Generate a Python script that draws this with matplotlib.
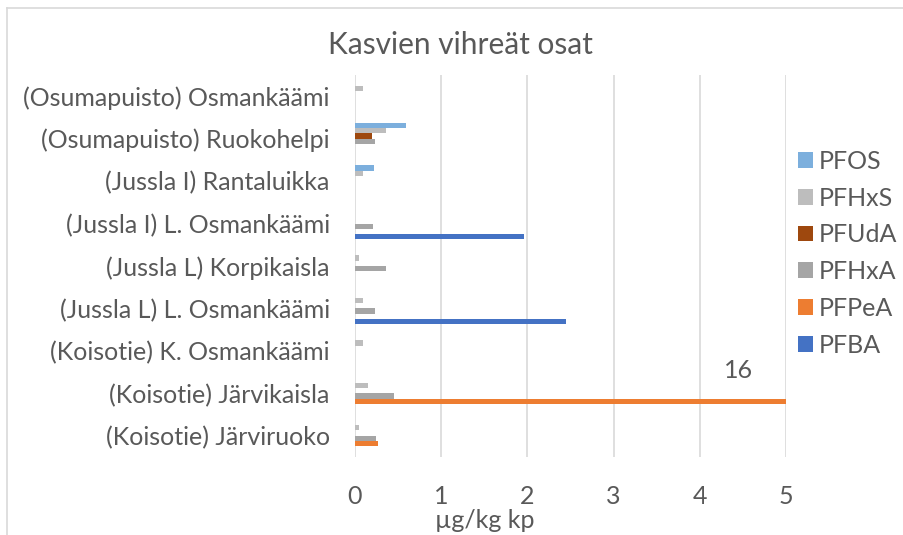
import numpy as np
import matplotlib.pyplot as plt
from matplotlib.lines import Line2D

plt.rcParams['font.family'] = ['Lato', 'DejaVu Sans']

# categories from bottom to top
categories = ['(Koisotie) Järviruoko', '(Koisotie) Järvikaisla', '(Koisotie) K. Osmankäämi',
              '(Jussla L) L. Osmankäämi', '(Jussla L) Korpikaisla', '(Jussla I) L. Osmankäämi',
              '(Jussla I) Rantaluikka', '(Osumapuisto) Ruokohelpi', '(Osumapuisto) Osmankäämi']

pfba  = [0, 0, 0, 2.45, 0, 1.96, 0, 0, 0]
pfpea = [0.27, 16, 0, 0, 0, 0, 0, 0, 0]
pfhxa = [0.25, 0.45, 0, 0.23, 0.36, 0.21, 0, 0.24, 0]
pfuda = [0, 0, 0, 0, 0, 0, 0, 0.20, 0]
pfhxs = [0.05, 0.15, 0.10, 0.10, 0.05, 0, 0.10, 0.36, 0.10]
pfos  = [0, 0, 0, 0, 0, 0, 0.22, 0.60, 0]

series = [('PFBA', pfba, '#4472C4'), ('PFPeA', pfpea, '#ED7D31'), ('PFHxA', pfhxa, '#A5A5A5'),
          ('PFUdA', pfuda, '#9E480E'), ('PFHxS', pfhxs, '#BDBDBD'), ('PFOS', pfos, '#7CAFDD')]

txt = '#595959'
grid = '#D9D9D9'
fs = 18

fig = plt.figure(figsize=(9.04, 5.35), dpi=100)
ax = fig.add_axes([0.3924, 0.1458, 0.4771, 0.714])

y = np.arange(len(categories))
h = 0.125
handles = []
for i, (name, vals, col) in enumerate(series):
    off = (i - 2.5) * h
    b = ax.barh(y + off, vals, height=h, color=col, label=name, zorder=3)
    handles.append(b)

# data label for the clipped bar
ax.text(4.45, y[1] - 1.5 * h + 0.73, '16', ha='center', va='center', fontsize=fs, color=txt)

ax.set_xlim(0, 5)
ax.set_ylim(-0.5, len(categories) - 0.5)
ax.set_xticks(range(6))
ax.set_yticks(y)
ax.set_yticklabels(categories)
ax.xaxis.grid(True, color=grid, linewidth=1.2)
ax.set_axisbelow(True)
for s in ax.spines.values():
    s.set_visible(False)
ax.tick_params(axis='both', length=0, labelsize=fs, colors=txt)
ax.tick_params(axis='x', pad=20)
ax.tick_params(axis='y', pad=18)

ax.text(0.302, -0.165, 'µg/kg kp', transform=ax.transAxes, ha='center', va='center',
        fontsize=fs, color=txt)

fig.text(0.509, 0.916, 'Kasvien vihreät osat', ha='center', va='center', fontsize=21.5, color=txt)

leg = ax.legend(handles[::-1], [s[0] for s in series][::-1], loc='upper left',
                bbox_to_anchor=(0.883, 0.72), bbox_transform=fig.transFigure,
                frameon=False, fontsize=fs, handlelength=0.58, handleheight=0.58,
                handletextpad=0.26, labelspacing=0.55, borderaxespad=0, borderpad=0)
for t in leg.get_texts():
    t.set_color(txt)

# chart border
fig.add_artist(Line2D([0.0077, 1.0], [0.985, 0.985], color=grid, linewidth=1.2))
fig.add_artist(Line2D([0.0077, 0.0077], [0.0, 0.985], color=grid, linewidth=1.2))

fig.savefig('out.png', dpi=100)
